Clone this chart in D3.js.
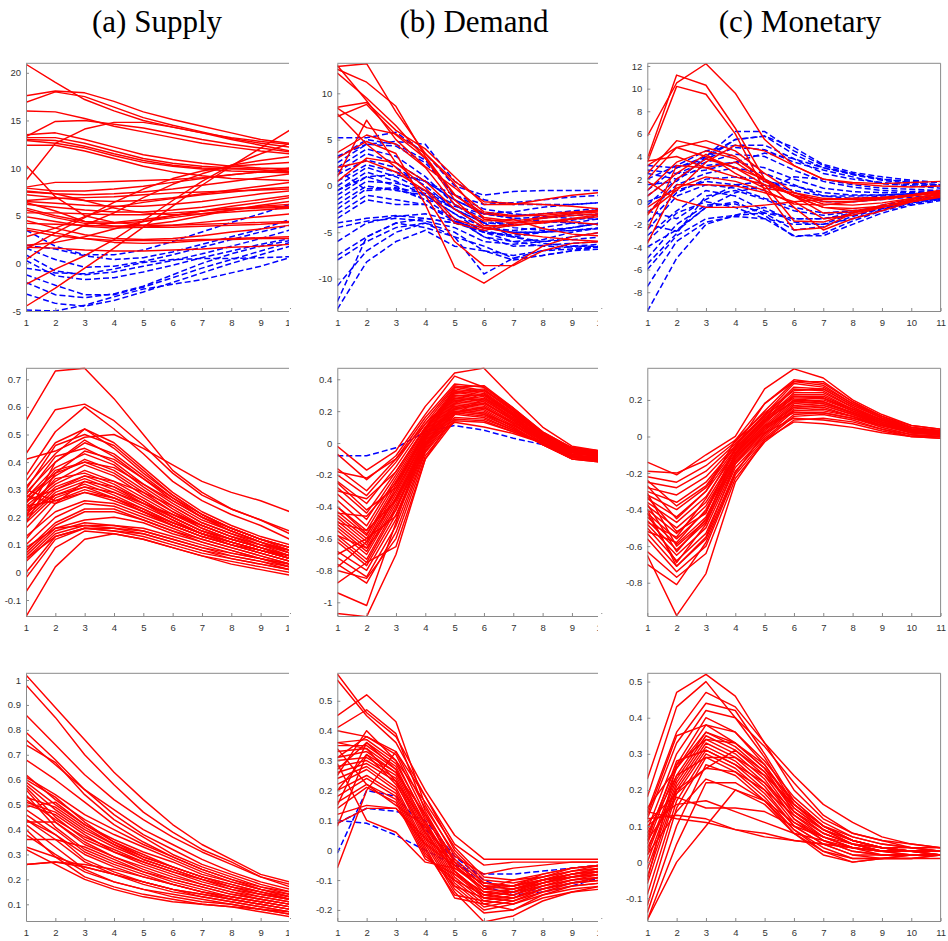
<!DOCTYPE html>
<html>
<head>
<meta charset="utf-8">
<script src="https://cdn.jsdelivr.net/npm/d3@7"></script>
<style>
  body { margin: 0; background: #fff; }
  svg { display: block; }
  .title { font-family: "Liberation Serif", "Times New Roman", serif; font-size: 31px; fill: #000; }
  .tick text { font-family: "Liberation Sans", Arial, sans-serif; font-size: 9.5px; fill: #333; }
</style>
</head>
<body>
<svg id="chart" width="948" height="941"></svg>
<script>
// column titles
const titles = ["(a) Supply", "(b) Demand", "(c) Monetary"];

// horizons
const steps10 = [1, 2, 3, 4, 5, 6, 7, 8, 9, 10];
const steps11 = [1, 2, 3, 4, 5, 6, 7, 8, 9, 10, 11];

// y tick labels per panel
const ticksA1 = [-5, 0, 5, 10, 15, 20];
const ticksB1 = [-10, -5, 0, 5, 10];
const ticksC1 = [-8, -6, -4, -2, 0, 2, 4, 6, 8, 10, 12];
const ticksA2 = [-0.1, 0, 0.1, 0.2, 0.3, 0.4, 0.5, 0.6, 0.7];
const ticksB2 = [-1, -0.8, -0.6, -0.4, -0.2, 0, 0.2, 0.4];
const ticksC2 = [-0.8, -0.6, -0.4, -0.2, 0, 0.2];
const ticksA3 = [0.1, 0.2, 0.3, 0.4, 0.5, 0.6, 0.7, 0.8, 0.9, 1];
const ticksB3 = [-0.2, -0.1, 0, 0.1, 0.2, 0.3, 0.4, 0.5];
const ticksC3 = [-0.1, 0, 0.1, 0.2, 0.3, 0.4, 0.5];

// ---- row 1, supply
const supplyTopSolid = [
  [20.9,19.0,17.2,16.0,15.0,14.3,13.7,13.0,12.4,11.8],
  [17.6,18.1,17.9,17.0,15.9,15.1,14.4,13.7,13.0,12.6],
  [16.9,18.0,17.5,16.4,15.3,14.5,13.8,13.1,12.6,12.2],
  [16.0,15.9,15.2,14.4,13.8,13.2,12.6,12.2,11.8,11.5],
  [13.3,14.9,15.0,14.6,14.2,13.6,13.0,12.5,12.1,11.7],
  [13.5,13.7,13.0,12.2,11.4,10.9,10.5,10.2,10.0,9.9],
  [13.2,13.2,12.6,11.8,11.0,10.5,10.2,10.0,9.8,9.6],
  [12.9,12.6,12.1,11.3,10.6,10.2,9.9,9.7,9.6,9.5],
  [12.4,12.4,11.8,11.0,10.2,9.6,9.2,8.9,8.8,8.7],
  [13.0,12.9,12.3,11.5,10.8,10.3,10.0,9.9,9.9,10.0],
  [8.7,12.6,14.1,14.8,14.8,14.3,13.7,13.2,12.8,12.5],
  [-4.5,-2.6,-0.5,1.6,3.8,6.0,8.2,10.2,12.1,14.0],
  [-2.2,-0.6,0.8,2.5,4.5,6.6,8.6,10.3,11.5,12.6],
  [0.4,2.5,4.0,5.3,6.9,8.3,9.4,10.3,10.8,11.2],
  [1.5,3.2,4.8,6.4,7.8,8.9,9.7,10.2,10.4,10.6],
  [10.3,7.0,5.0,4.3,4.0,4.0,4.1,4.2,4.3,4.4],
  [8.0,8.5,8.5,8.6,8.7,8.8,9.0,9.3,9.6,10.0],
  [7.9,7.6,7.6,7.8,8.1,8.5,8.9,9.3,9.6,9.8],
  [7.5,7.3,7.2,7.3,7.5,7.8,8.2,8.6,9.0,9.4],
  [7.2,6.9,6.6,6.5,6.6,6.9,7.3,7.7,8.1,8.5],
  [6.5,6.3,6.1,6.0,6.0,6.2,6.5,6.9,7.3,7.6],
  [6.2,5.9,5.6,5.4,5.4,5.6,5.9,6.3,6.7,7.1],
  [5.8,5.0,4.4,4.3,4.6,5.0,5.5,6.0,6.4,6.9],
  [5.6,4.8,4.2,4.2,4.4,4.8,5.2,5.6,6.0,6.2],
  [5.3,5.3,5.2,5.1,5.1,5.3,5.5,5.7,5.8,5.9],
  [4.9,4.4,3.9,3.7,3.8,4.0,4.3,4.6,4.9,5.2],
  [4.5,3.7,3.0,2.6,2.5,2.6,2.9,3.3,3.6,4.0],
  [4.2,4.1,4.0,3.9,3.8,3.8,3.9,4.0,4.1,4.3],
  [3.7,3.2,2.6,2.2,2.1,2.2,2.4,2.6,2.7,2.8],
  [3.5,2.9,2.6,2.4,2.4,2.4,2.5,2.5,2.6,2.6],
  [1.7,1.6,1.4,1.3,1.3,1.4,1.5,1.7,1.8,2.0],
  [1.9,2.2,2.8,3.6,4.4,5.0,5.5,5.8,5.9,6.0],
  [6.4,5.5,4.4,3.9,4.0,4.4,5.0,5.6,6.1,6.5],
  [2.8,3.7,4.9,5.9,6.4,6.8,7.2,7.5,7.8,8.0],
  [6.6,6.8,6.9,7.0,7.2,7.4,7.5,7.6,7.7,7.8],
  [7.6,7.3,6.6,5.8,5.3,5.1,5.2,5.4,5.6,5.8]
];
const supplyTopDashed = [
  [3.5,1.8,0.9,0.9,1.4,2.3,3.3,4.3,5.2,6.2],
  [1.9,1.5,0.8,0.4,0.6,1.2,2.0,2.8,3.6,4.6],
  [1.6,0.4,-0.4,-0.3,0.2,0.9,1.7,2.5,3.3,4.0],
  [0.9,-0.8,-1.2,-0.9,-0.3,0.3,1.0,1.8,2.6,3.5],
  [0.3,-1.3,-1.7,-1.5,-0.9,-0.2,0.6,1.3,2.0,2.6],
  [-0.5,-1.0,-1.1,-0.6,0.1,0.4,0.5,0.5,0.6,0.7],
  [-1.2,-2.3,-3.3,-3.3,-2.5,-1.5,-0.5,0.4,1.3,2.2],
  [-2.0,-3.3,-3.6,-3.2,-2.4,-1.2,0.0,1.0,1.8,2.4],
  [-3.2,-4.2,-4.5,-3.9,-3.0,-2.0,-1.0,0.0,0.9,1.8],
  [-4.9,-5.0,-4.4,-3.5,-2.7,-2.2,-1.7,-1.0,-0.3,0.6]
];

// ---- row 1, demand
const demandTopSolid = [
  [12.9,13.2,8.0,3.5,0.5,-1.7,-1.9,-2.0,-2.2,-2.5],
  [12.6,11.2,8.6,3.2,-1.0,-3.0,-3.3,-3.0,-2.8,-2.7],
  [12.2,9.5,6.5,3.0,-0.9,-3.4,-3.8,-3.4,-3.0,-2.8],
  [13.0,9.2,5.0,2.1,-0.2,-2.8,-3.2,-3.2,-2.9,-2.6],
  [8.5,9.0,6.0,4.0,1.0,-2.0,-2.0,-1.5,-1.0,-0.7],
  [7.5,8.8,5.5,3.0,-1.5,-4.3,-4.3,-3.9,-3.5,-3.1],
  [8.4,6.3,5.6,3.5,0.2,-3.6,-4.0,-3.8,-3.9,-4.2],
  [7.8,4.5,2.0,-1.0,-6.0,-8.6,-8.6,-7.0,-6.2,-6.0],
  [3.0,4.8,3.5,-2.0,-8.8,-10.5,-8.5,-6.5,-5.5,-5.0],
  [1.0,7.1,2.5,0.5,-2.5,-4.5,-5.1,-5.5,-5.8,-6.0],
  [0.5,3.0,2.5,-0.2,-3.6,-4.6,-4.0,-3.5,-3.2,-3.0],
  [2.0,2.7,1.5,-0.5,-4.0,-4.8,-4.2,-4.0,-3.6,-3.3],
  [3.6,5.5,4.5,2.0,-2.0,-3.8,-3.6,-4.6,-5.2,-5.4]
];
const demandTopDashed = [
  [5.2,5.2,5.8,3.5,0.0,-1.0,-0.6,-0.5,-0.5,-0.5],
  [3.0,5.0,4.5,2.8,-1.0,-2.0,-1.8,-1.5,-1.2,-1.0],
  [2.5,4.5,4.3,2.5,-1.0,-3.0,-2.8,-2.3,-2.0,-1.8],
  [2.0,4.0,3.2,1.0,-2.0,-4.0,-4.0,-3.5,-3.0,-2.5],
  [1.5,3.5,2.5,0.5,-1.5,-3.0,-3.5,-3.4,-3.2,-3.0],
  [1.2,2.8,2.0,0.0,-2.5,-4.5,-4.8,-4.5,-4.0,-3.5],
  [0.5,2.3,1.5,0.5,-1.5,-3.0,-3.2,-3.0,-2.7,-2.4],
  [0.0,2.0,1.0,-0.5,-2.5,-4.0,-4.2,-4.0,-3.7,-3.2],
  [-0.5,1.5,0.5,-1.0,-3.0,-5.0,-5.3,-5.0,-4.5,-4.0],
  [-1.0,1.0,0.0,-1.5,-3.5,-5.5,-6.0,-5.8,-5.0,-4.5],
  [-1.5,0.5,0.3,-0.5,-2.0,-3.5,-4.5,-4.8,-4.5,-4.0],
  [-2.0,0.0,-0.5,-1.0,-3.0,-4.5,-5.0,-5.0,-4.8,-4.6],
  [-2.5,-0.3,-0.2,-0.8,-2.5,-4.0,-5.5,-6.0,-5.8,-5.5],
  [-3.0,-1.0,-1.5,-2.0,-3.5,-5.5,-6.5,-6.4,-6.2,-6.0],
  [-3.5,-1.5,-2.0,-2.0,-3.8,-5.0,-6.0,-6.5,-6.6,-6.6],
  [-4.0,-3.5,-3.2,-3.5,-4.0,-4.5,-5.0,-5.0,-4.5,-4.0],
  [-4.5,-3.8,-3.5,-3.8,-4.5,-6.0,-6.3,-6.0,-5.5,-5.0],
  [-6.0,-4.0,-3.3,-3.0,-3.8,-4.8,-5.5,-6.2,-6.5,-6.5],
  [-7.5,-5.5,-4.0,-4.5,-5.5,-6.5,-7.8,-7.5,-7.0,-6.8],
  [-8.0,-6.0,-4.5,-4.0,-5.0,-7.0,-7.5,-7.0,-6.5,-6.3],
  [-10.8,-7.0,-5.0,-4.0,-5.5,-9.5,-7.8,-7.0,-6.8,-6.6],
  [-13.3,-8.2,-6.0,-4.8,-6.5,-7.0,-8.0,-7.5,-7.0,-6.5],
  [-12.5,-5.5,-4.0,-3.5,-4.0,-5.0,-5.5,-5.0,-4.8,-4.5],
  [3.2,4.5,4.8,4.5,0.5,-1.5,-2.0,-2.0,-2.0,-1.8],
  [-0.5,1.0,1.2,0.5,-1.0,-2.5,-3.0,-3.3,-3.5,-3.6],
  [1.8,-0.5,-0.3,-1.5,-2.2,-3.0,-3.5,-3.8,-4.0,-4.2]
];

// ---- row 1, monetary
const monetaryTopSolid = [
  [5.8,10.5,12.2,9.6,5.5,3.2,2.0,1.6,1.4,1.3,1.4],
  [3.8,11.2,10.3,6.5,2.0,0.5,0.2,0.2,0.3,0.5,0.8],
  [3.5,10.2,9.5,6.0,1.0,-0.2,-0.3,0.0,0.3,0.6,1.0],
  [2.5,5.4,4.8,4.0,2.0,0.5,-0.5,-0.8,-0.5,0.0,0.5],
  [3.2,4.8,5.4,4.5,2.5,0.8,0.0,0.0,0.2,0.5,0.9],
  [2.0,4.8,4.0,3.0,1.5,-1.7,-1.8,-1.0,-0.5,0.2,0.7],
  [-1.0,1.0,3.5,5.0,4.5,3.2,2.0,1.7,1.6,1.7,1.8],
  [1.0,3.5,4.5,3.8,2.0,-0.5,-2.5,-1.5,-0.8,0.0,0.5],
  [-2.5,3.2,3.0,3.5,1.8,0.5,-0.5,-0.6,-0.4,0.0,0.4],
  [-3.7,1.5,1.5,1.4,0.8,0.0,-1.5,-1.2,-0.5,0.2,0.8],
  [-0.5,1.2,2.2,1.8,1.0,-2.5,-2.3,-1.0,-0.3,0.3,0.6],
  [1.8,0.2,-0.5,-0.5,-0.3,0.0,0.2,0.3,0.4,0.6,0.8],
  [0.5,2.5,4.2,2.5,1.2,0.8,0.3,0.2,0.3,0.6,1.0],
  [-1.2,2.0,3.8,3.0,2.0,0.5,-1.0,-0.9,-0.5,0.1,0.5],
  [3.6,4.0,3.0,2.2,1.5,0.6,-0.2,-0.3,-0.1,0.3,0.7]
];
const monetaryTopDashed = [
  [3.2,3.0,4.0,6.2,6.2,4.5,3.2,2.4,2.0,1.8,1.7],
  [2.5,2.0,3.8,5.5,5.8,4.2,3.0,2.4,1.9,1.6,1.5],
  [2.0,3.2,4.5,5.0,5.0,3.8,2.5,2.0,1.7,1.5,1.4],
  [1.0,3.0,3.8,4.8,4.6,3.5,2.8,2.2,1.6,1.4,1.2],
  [0.5,2.5,3.5,4.2,4.0,2.8,1.8,1.3,1.0,0.9,1.0],
  [-0.3,2.0,3.2,3.5,3.0,2.0,1.2,0.9,0.8,0.8,0.9],
  [-1.0,1.5,2.5,3.0,2.5,1.5,0.5,0.3,0.5,0.7,0.8],
  [-1.8,0.8,2.0,2.2,2.0,0.8,0.0,0.0,0.2,0.4,0.6],
  [-2.5,0.5,1.5,1.2,0.3,-0.5,-1.0,-0.8,-0.5,0.0,0.4],
  [-3.0,-0.8,1.0,0.5,-0.8,-1.5,-1.5,-1.2,-0.6,-0.1,0.3],
  [-3.5,-1.0,0.0,-0.5,-1.5,-3.0,-3.0,-2.0,-1.0,-0.3,0.1],
  [-4.0,-2.5,-0.5,0.0,-1.2,-3.1,-2.8,-1.7,-0.8,-0.2,0.2],
  [-5.0,-2.0,-0.3,-0.2,-1.0,-2.5,-2.2,-1.3,-0.6,0.0,0.3],
  [-6.0,-3.0,-1.5,-1.2,-0.5,-1.8,-2.0,-1.0,-0.3,0.2,0.5],
  [-7.5,-3.5,-1.8,-1.3,-1.5,-2.0,-2.0,-1.5,-0.7,0.0,0.3],
  [-9.7,-5.0,-2.0,-1.2,-1.0,-1.5,-1.5,-1.0,-0.5,0.0,0.2],
  [-5.5,-2.8,0.5,1.0,0.2,-0.8,-1.2,-0.9,-0.4,0.1,0.5],
  [1.5,1.8,4.0,5.5,5.8,4.8,3.3,2.6,2.2,1.9,1.7],
  [2.8,2.5,2.8,3.5,4.3,3.8,3.0,2.5,2.0,1.7,1.5],
  [0.0,1.0,1.8,1.5,1.0,2.2,2.0,1.5,1.2,1.1,1.0],
  [-2.0,-2.6,-0.5,0.8,1.5,1.0,0.5,0.5,0.6,0.7,0.8],
  [-0.8,-1.5,0.2,1.5,1.8,1.4,0.8,0.6,0.6,0.7,0.8]
];

// ---- row 2, supply
const supplyMidSolid = [
  [0.55,0.73,0.74,0.63,0.50,0.37,0.29,0.23,0.19,0.15],
  [0.41,0.44,0.49,0.50,0.45,0.39,0.33,0.29,0.26,0.22],
  [0.43,0.59,0.61,0.55,0.46,0.36,0.28,0.23,0.19,0.14],
  [0.35,0.51,0.60,0.52,0.43,0.33,0.26,0.21,0.17,0.12],
  [0.33,0.47,0.52,0.47,0.38,0.29,0.22,0.17,0.13,0.10],
  [0.31,0.43,0.52,0.45,0.36,0.28,0.21,0.16,0.12,0.09],
  [0.30,0.46,0.50,0.46,0.37,0.28,0.21,0.16,0.12,0.08],
  [0.29,0.40,0.48,0.42,0.34,0.26,0.20,0.15,0.11,0.08],
  [0.28,0.42,0.45,0.40,0.32,0.25,0.19,0.15,0.11,0.07],
  [0.27,0.38,0.43,0.39,0.31,0.24,0.18,0.14,0.10,0.06],
  [0.26,0.35,0.41,0.37,0.30,0.23,0.17,0.13,0.10,0.07],
  [0.25,0.37,0.40,0.36,0.29,0.22,0.17,0.13,0.09,0.06],
  [0.24,0.33,0.39,0.35,0.28,0.22,0.16,0.12,0.09,0.06],
  [0.23,0.32,0.37,0.33,0.27,0.21,0.16,0.12,0.09,0.05],
  [0.22,0.34,0.36,0.32,0.26,0.20,0.15,0.11,0.08,0.05],
  [0.21,0.31,0.35,0.31,0.25,0.19,0.14,0.11,0.08,0.05],
  [0.20,0.30,0.34,0.30,0.25,0.20,0.15,0.12,0.09,0.06],
  [0.19,0.29,0.33,0.29,0.24,0.19,0.14,0.11,0.08,0.05],
  [0.18,0.28,0.32,0.28,0.23,0.18,0.14,0.10,0.08,0.05],
  [0.16,0.27,0.31,0.27,0.22,0.17,0.13,0.10,0.07,0.04],
  [0.30,0.26,0.30,0.27,0.22,0.18,0.14,0.11,0.08,0.05],
  [0.28,0.25,0.29,0.26,0.22,0.17,0.13,0.10,0.07,0.04],
  [0.13,0.22,0.26,0.25,0.21,0.17,0.13,0.10,0.07,0.04],
  [0.10,0.20,0.25,0.24,0.20,0.16,0.12,0.09,0.06,0.03],
  [0.08,0.18,0.23,0.23,0.19,0.15,0.12,0.09,0.06,0.03],
  [0.07,0.17,0.22,0.22,0.19,0.15,0.11,0.08,0.05,0.03],
  [0.06,0.16,0.19,0.20,0.18,0.14,0.11,0.08,0.05,0.02],
  [0.05,0.15,0.18,0.17,0.16,0.13,0.10,0.07,0.05,0.02],
  [0.04,0.14,0.17,0.16,0.15,0.12,0.09,0.06,0.04,0.02],
  [0.00,0.13,0.16,0.16,0.14,0.11,0.08,0.06,0.04,0.01],
  [-0.02,0.12,0.16,0.15,0.13,0.10,0.07,0.05,0.03,0.01],
  [-0.07,0.09,0.15,0.14,0.12,0.09,0.06,0.04,0.02,0.00],
  [-0.16,0.02,0.12,0.14,0.12,0.09,0.06,0.03,0.01,-0.01],
  [0.24,0.26,0.29,0.27,0.23,0.18,0.14,0.11,0.08,0.06],
  [0.27,0.36,0.40,0.38,0.32,0.26,0.20,0.16,0.12,0.09],
  [0.18,0.36,0.44,0.41,0.34,0.27,0.21,0.16,0.12,0.09],
  [0.20,0.40,0.47,0.43,0.35,0.27,0.20,0.15,0.11,0.07],
  [0.12,0.25,0.33,0.31,0.26,0.20,0.15,0.12,0.09,0.06],
  [0.26,0.30,0.35,0.33,0.29,0.24,0.18,0.14,0.11,0.08],
  [0.22,0.28,0.31,0.29,0.25,0.21,0.17,0.13,0.10,0.08],
  [0.09,0.16,0.17,0.17,0.15,0.12,0.09,0.07,0.05,0.03],
  [0.05,0.13,0.16,0.15,0.14,0.11,0.08,0.05,0.03,0.01]
];

// ---- row 2, demand
const demandMidSolid = [
  [-0.02,-0.17,-0.05,0.23,0.44,0.47,0.28,0.10,-0.02,-0.05],
  [-0.07,-0.23,-0.08,0.18,0.42,0.35,0.22,0.07,-0.03,-0.06],
  [-0.16,-0.30,-0.10,0.16,0.37,0.35,0.21,0.06,-0.04,-0.07],
  [-0.20,-0.33,-0.12,0.14,0.36,0.33,0.20,0.05,-0.04,-0.07],
  [-0.24,-0.38,-0.15,0.12,0.35,0.32,0.19,0.05,-0.05,-0.08],
  [-0.28,-0.44,-0.18,0.10,0.34,0.31,0.18,0.04,-0.05,-0.08],
  [-0.32,-0.48,-0.20,0.09,0.33,0.30,0.17,0.03,-0.06,-0.09],
  [-0.36,-0.52,-0.22,0.08,0.32,0.29,0.17,0.03,-0.06,-0.09],
  [-0.40,-0.55,-0.24,0.07,0.30,0.28,0.16,0.02,-0.07,-0.10],
  [-0.43,-0.58,-0.26,0.06,0.29,0.27,0.15,0.02,-0.07,-0.10],
  [-0.45,-0.60,-0.28,0.05,0.28,0.26,0.14,0.01,-0.08,-0.10],
  [-0.47,-0.62,-0.30,0.04,0.27,0.25,0.14,0.01,-0.08,-0.11],
  [-0.49,-0.64,-0.32,0.03,0.26,0.24,0.13,0.01,-0.08,-0.11],
  [-0.51,-0.66,-0.34,0.02,0.25,0.23,0.12,0.00,-0.09,-0.11],
  [-0.53,-0.68,-0.36,0.01,0.24,0.22,0.12,0.00,-0.09,-0.11],
  [-0.55,-0.70,-0.38,0.00,0.23,0.21,0.11,0.00,-0.09,-0.12],
  [-0.58,-0.73,-0.40,-0.01,0.22,0.20,0.10,-0.01,-0.10,-0.12],
  [-0.60,-0.75,-0.42,-0.02,0.21,0.19,0.10,-0.01,-0.10,-0.12],
  [-0.62,-0.77,-0.45,-0.03,0.20,0.18,0.09,-0.01,-0.10,-0.11],
  [-0.68,-0.80,-0.48,-0.04,0.19,0.17,0.09,-0.01,-0.09,-0.10],
  [-0.72,-0.84,-0.52,-0.05,0.18,0.16,0.08,0.00,-0.08,-0.09],
  [-0.76,-0.88,-0.56,-0.06,0.16,0.15,0.08,0.00,-0.07,-0.08],
  [-0.80,-0.85,-0.60,-0.08,0.15,0.14,0.07,0.00,-0.06,-0.07],
  [-0.88,-0.75,-0.65,-0.10,0.14,0.13,0.07,0.00,-0.05,-0.06],
  [-0.94,-1.02,-0.50,0.05,0.22,0.25,0.15,0.03,-0.05,-0.07],
  [-1.07,-1.09,-0.70,-0.10,0.18,0.28,0.18,0.05,-0.03,-0.05],
  [-0.78,-0.62,-0.35,0.00,0.13,0.10,0.06,0.00,-0.06,-0.08],
  [-0.44,-0.46,-0.25,0.05,0.20,0.18,0.11,0.02,-0.05,-0.07],
  [-0.40,-0.57,-0.30,0.03,0.32,0.34,0.20,0.06,-0.03,-0.06],
  [-0.30,-0.35,-0.18,0.10,0.28,0.27,0.16,0.04,-0.05,-0.08],
  [-0.18,-0.22,-0.10,0.12,0.30,0.30,0.18,0.05,-0.04,-0.07],
  [-0.58,-0.66,-0.42,0.02,0.35,0.36,0.22,0.07,-0.03,-0.05],
  [-0.50,-0.55,-0.36,0.00,0.19,0.22,0.13,0.03,-0.06,-0.09],
  [-0.70,-0.60,-0.46,-0.02,0.25,0.31,0.19,0.05,-0.05,-0.08],
  [-0.25,-0.42,-0.28,0.08,0.31,0.33,0.21,0.06,-0.04,-0.06]
];
const demandMidDashed = [
  [-0.08,-0.08,-0.03,0.07,0.11,0.08,0.03,-0.01,-0.04,-0.06]
];

// ---- row 2, monetary
const monetaryMidSolid = [
  [-0.14,-0.21,-0.10,0.00,0.26,0.37,0.32,0.20,0.12,0.06,0.04],
  [-0.19,-0.20,-0.13,-0.02,0.18,0.31,0.29,0.19,0.11,0.05,0.03],
  [-0.22,-0.25,-0.16,-0.03,0.14,0.30,0.28,0.18,0.11,0.05,0.03],
  [-0.25,-0.28,-0.19,-0.04,0.12,0.29,0.27,0.18,0.10,0.05,0.03],
  [-0.28,-0.32,-0.22,-0.05,0.11,0.27,0.26,0.17,0.10,0.04,0.03],
  [-0.30,-0.36,-0.25,-0.06,0.10,0.26,0.25,0.16,0.09,0.04,0.02],
  [-0.32,-0.40,-0.28,-0.07,0.09,0.24,0.24,0.16,0.09,0.04,0.02],
  [-0.34,-0.44,-0.30,-0.08,0.08,0.23,0.23,0.15,0.09,0.04,0.02],
  [-0.36,-0.47,-0.33,-0.09,0.07,0.22,0.22,0.15,0.08,0.03,0.02],
  [-0.38,-0.50,-0.36,-0.10,0.06,0.20,0.21,0.14,0.08,0.03,0.02],
  [-0.40,-0.53,-0.38,-0.11,0.05,0.19,0.20,0.14,0.08,0.03,0.01],
  [-0.42,-0.56,-0.41,-0.12,0.04,0.18,0.19,0.13,0.07,0.03,0.01],
  [-0.44,-0.59,-0.44,-0.13,0.03,0.17,0.18,0.13,0.07,0.02,0.01],
  [-0.46,-0.62,-0.47,-0.14,0.02,0.16,0.17,0.12,0.06,0.02,0.01],
  [-0.48,-0.65,-0.50,-0.15,0.01,0.15,0.16,0.11,0.06,0.02,0.01],
  [-0.50,-0.68,-0.53,-0.17,0.00,0.14,0.15,0.11,0.05,0.01,0.00],
  [-0.53,-0.71,-0.56,-0.19,-0.01,0.12,0.13,0.10,0.05,0.01,0.00],
  [-0.56,-0.74,-0.60,-0.21,-0.02,0.11,0.12,0.09,0.04,0.01,0.00],
  [-0.63,-0.77,-0.64,-0.23,-0.03,0.09,0.10,0.08,0.04,0.00,0.00],
  [-0.70,-0.81,-0.58,-0.20,0.02,0.10,0.09,0.07,0.03,0.00,-0.01],
  [-0.65,-0.98,-0.75,-0.25,-0.02,0.08,0.07,0.05,0.02,0.00,-0.01],
  [-0.33,-0.52,-0.42,-0.06,0.18,0.30,0.30,0.19,0.11,0.06,0.04],
  [-0.27,-0.45,-0.30,-0.02,0.13,0.25,0.26,0.17,0.10,0.05,0.03],
  [-0.37,-0.63,-0.45,-0.09,0.10,0.21,0.21,0.15,0.09,0.04,0.02],
  [-0.42,-0.69,-0.48,-0.12,0.05,0.16,0.17,0.12,0.07,0.03,0.02],
  [-0.47,-0.55,-0.34,-0.07,0.09,0.19,0.18,0.13,0.08,0.04,0.02],
  [-0.24,-0.38,-0.27,-0.05,0.12,0.22,0.21,0.14,0.08,0.04,0.02],
  [-0.52,-0.58,-0.40,-0.10,0.06,0.13,0.13,0.10,0.06,0.02,0.01],
  [-0.40,-0.71,-0.55,-0.15,0.04,0.14,0.14,0.11,0.06,0.03,0.01],
  [-0.31,-0.60,-0.46,-0.10,0.08,0.20,0.19,0.13,0.07,0.03,0.02]
];

// ---- row 3, supply
const supplyLowSolid = [
  [1.02,0.89,0.76,0.63,0.52,0.42,0.34,0.28,0.22,0.19],
  [0.98,0.85,0.70,0.58,0.47,0.39,0.32,0.27,0.21,0.18],
  [0.86,0.74,0.62,0.52,0.44,0.37,0.31,0.26,0.21,0.17],
  [0.79,0.68,0.56,0.48,0.40,0.34,0.28,0.23,0.19,0.16],
  [0.76,0.66,0.56,0.46,0.38,0.32,0.26,0.22,0.18,0.15],
  [0.74,0.67,0.54,0.44,0.37,0.30,0.25,0.21,0.17,0.14],
  [0.68,0.60,0.51,0.42,0.35,0.29,0.24,0.20,0.16,0.13],
  [0.62,0.52,0.44,0.38,0.33,0.28,0.23,0.19,0.16,0.14],
  [0.61,0.54,0.46,0.40,0.34,0.29,0.24,0.20,0.17,0.15],
  [0.59,0.50,0.42,0.36,0.31,0.27,0.22,0.19,0.16,0.13],
  [0.58,0.48,0.40,0.34,0.29,0.25,0.21,0.18,0.15,0.12],
  [0.57,0.45,0.36,0.31,0.27,0.23,0.20,0.17,0.14,0.12],
  [0.56,0.43,0.34,0.29,0.25,0.21,0.18,0.15,0.13,0.11],
  [0.54,0.41,0.32,0.27,0.23,0.20,0.17,0.14,0.12,0.10],
  [0.52,0.44,0.37,0.32,0.27,0.23,0.19,0.16,0.13,0.11],
  [0.51,0.47,0.39,0.33,0.28,0.24,0.20,0.16,0.14,0.12],
  [0.50,0.46,0.38,0.31,0.26,0.22,0.18,0.15,0.12,0.10],
  [0.48,0.40,0.31,0.26,0.22,0.18,0.15,0.13,0.11,0.09],
  [0.46,0.38,0.28,0.23,0.19,0.16,0.14,0.12,0.10,0.08],
  [0.44,0.36,0.27,0.22,0.18,0.15,0.13,0.11,0.09,0.07],
  [0.42,0.33,0.24,0.19,0.16,0.14,0.12,0.10,0.08,0.06],
  [0.40,0.29,0.21,0.17,0.14,0.12,0.10,0.09,0.08,0.06],
  [0.38,0.30,0.23,0.19,0.16,0.13,0.11,0.10,0.08,0.07],
  [0.36,0.36,0.33,0.28,0.23,0.19,0.16,0.13,0.11,0.09],
  [0.33,0.29,0.25,0.22,0.19,0.16,0.13,0.11,0.09,0.07],
  [0.26,0.27,0.25,0.22,0.19,0.16,0.14,0.12,0.10,0.08],
  [0.26,0.27,0.26,0.24,0.21,0.18,0.15,0.13,0.11,0.09],
  [0.43,0.43,0.35,0.29,0.24,0.20,0.17,0.14,0.12,0.10],
  [0.49,0.51,0.42,0.35,0.30,0.25,0.21,0.18,0.15,0.13],
  [0.53,0.49,0.41,0.34,0.28,0.24,0.20,0.17,0.14,0.12],
  [0.60,0.53,0.43,0.35,0.29,0.25,0.21,0.17,0.15,0.12],
  [0.44,0.38,0.30,0.25,0.21,0.18,0.15,0.12,0.10,0.08],
  [0.32,0.26,0.20,0.16,0.13,0.11,0.10,0.09,0.07,0.05]
];

// ---- row 3, demand
const demandLowSolid = [
  [0.59,0.46,0.38,0.20,0.05,-0.03,-0.03,-0.03,-0.03,-0.03],
  [0.57,0.45,0.36,0.18,0.02,-0.05,-0.04,-0.04,-0.04,-0.04],
  [0.45,0.52,0.43,0.15,-0.02,-0.08,-0.06,-0.05,-0.04,-0.04],
  [0.41,0.47,0.39,0.13,-0.04,-0.12,-0.12,-0.08,-0.06,-0.05],
  [0.40,0.38,0.32,0.12,-0.06,-0.13,-0.10,-0.09,-0.07,-0.06],
  [0.36,0.37,0.30,0.10,-0.07,-0.15,-0.13,-0.10,-0.08,-0.07],
  [0.35,0.35,0.28,0.08,-0.08,-0.16,-0.14,-0.11,-0.09,-0.08],
  [0.33,0.34,0.27,0.07,-0.09,-0.17,-0.15,-0.12,-0.10,-0.09],
  [0.31,0.33,0.26,0.06,-0.10,-0.18,-0.16,-0.13,-0.11,-0.10],
  [0.30,0.31,0.25,0.05,-0.11,-0.19,-0.17,-0.14,-0.12,-0.11],
  [0.28,0.30,0.24,0.04,-0.12,-0.20,-0.18,-0.15,-0.13,-0.12],
  [0.26,0.29,0.23,0.03,-0.13,-0.21,-0.20,-0.16,-0.14,-0.12],
  [0.24,0.28,0.21,0.02,-0.14,-0.24,-0.22,-0.17,-0.14,-0.13],
  [0.22,0.27,0.20,0.01,-0.16,-0.18,-0.20,-0.15,-0.12,-0.11],
  [0.20,0.25,0.19,0.00,-0.15,-0.17,-0.18,-0.14,-0.11,-0.10],
  [0.18,0.24,0.18,-0.01,-0.12,-0.16,-0.17,-0.13,-0.10,-0.09],
  [0.16,0.22,0.17,-0.02,-0.10,-0.15,-0.16,-0.12,-0.09,-0.08],
  [0.14,0.21,0.16,-0.03,-0.08,-0.14,-0.15,-0.11,-0.08,-0.07],
  [0.12,0.15,0.14,0.02,-0.05,-0.13,-0.14,-0.10,-0.08,-0.06],
  [0.09,0.14,0.14,0.04,-0.04,-0.12,-0.13,-0.10,-0.07,-0.06],
  [-0.06,0.20,0.33,0.18,0.00,-0.10,-0.11,-0.09,-0.06,-0.05],
  [0.08,0.32,0.26,0.12,-0.03,-0.11,-0.12,-0.09,-0.07,-0.05],
  [0.25,0.40,0.30,0.16,0.01,-0.09,-0.10,-0.08,-0.06,-0.05],
  [0.31,0.38,0.33,0.14,-0.01,-0.11,-0.12,-0.10,-0.08,-0.06],
  [0.34,0.22,0.15,0.08,-0.05,-0.14,-0.13,-0.11,-0.09,-0.08],
  [0.27,0.36,0.27,0.09,-0.05,-0.13,-0.12,-0.10,-0.08,-0.07],
  [0.20,0.32,0.22,0.06,-0.07,-0.15,-0.14,-0.12,-0.10,-0.08],
  [0.15,0.36,0.29,0.11,-0.04,-0.12,-0.13,-0.11,-0.09,-0.07],
  [0.29,0.10,0.06,-0.04,-0.06,-0.11,-0.12,-0.10,-0.09,-0.07],
  [0.36,0.34,0.23,0.09,-0.07,-0.16,-0.16,-0.13,-0.11,-0.09]
];
const demandLowDashed = [
  [-0.01,0.20,0.18,0.07,-0.03,-0.12,-0.15,-0.14,-0.12,-0.09],
  [0.10,0.09,0.05,0.00,-0.05,-0.08,-0.08,-0.07,-0.06,-0.05],
  [0.09,0.14,0.13,0.10,-0.02,-0.10,-0.14,-0.13,-0.11,-0.09]
];

// ---- row 3, monetary
const monetaryLowSolid = [
  [0.23,0.47,0.52,0.46,0.33,0.24,0.16,0.11,0.07,0.05,0.04],
  [0.18,0.43,0.50,0.40,0.32,0.22,0.13,0.08,0.06,0.05,0.04],
  [0.14,0.36,0.47,0.43,0.33,0.20,0.12,0.08,0.06,0.04,0.04],
  [0.12,0.33,0.44,0.42,0.30,0.17,0.10,0.07,0.05,0.04,0.03],
  [0.09,0.30,0.42,0.40,0.29,0.16,0.10,0.06,0.04,0.04,0.03],
  [0.07,0.27,0.40,0.36,0.27,0.15,0.09,0.06,0.04,0.03,0.03],
  [0.05,0.26,0.38,0.33,0.26,0.14,0.09,0.05,0.03,0.03,0.03],
  [0.03,0.24,0.36,0.32,0.25,0.14,0.08,0.05,0.03,0.03,0.02],
  [0.02,0.23,0.35,0.31,0.24,0.13,0.07,0.04,0.03,0.02,0.02],
  [0.00,0.22,0.34,0.30,0.23,0.12,0.07,0.04,0.02,0.02,0.02],
  [-0.02,0.21,0.33,0.29,0.22,0.12,0.06,0.03,0.02,0.02,0.02],
  [-0.04,0.20,0.32,0.28,0.21,0.11,0.06,0.03,0.02,0.02,0.02],
  [-0.06,0.19,0.31,0.27,0.20,0.10,0.05,0.02,0.02,0.02,0.02],
  [-0.09,0.17,0.30,0.26,0.19,0.10,0.05,0.02,0.01,0.02,0.02],
  [-0.12,0.15,0.29,0.25,0.18,0.09,0.04,0.01,0.01,0.02,0.02],
  [-0.14,0.10,0.27,0.24,0.17,0.08,0.03,0.01,0.01,0.01,0.02],
  [-0.16,0.00,0.10,0.20,0.16,0.08,0.02,0.00,0.01,0.01,0.01],
  [-0.16,0.05,0.22,0.22,0.17,0.09,0.03,0.00,0.01,0.01,0.02],
  [0.12,0.13,0.12,0.09,0.07,0.06,0.05,0.04,0.03,0.03,0.03],
  [0.14,0.12,0.11,0.09,0.08,0.06,0.05,0.04,0.03,0.03,0.03],
  [0.10,0.16,0.17,0.14,0.11,0.08,0.06,0.04,0.03,0.03,0.02],
  [0.06,0.18,0.15,0.15,0.14,0.10,0.07,0.05,0.04,0.03,0.03],
  [0.15,0.26,0.36,0.33,0.26,0.17,0.10,0.06,0.04,0.03,0.03],
  [0.08,0.24,0.29,0.29,0.24,0.16,0.10,0.06,0.04,0.03,0.03],
  [0.04,0.20,0.26,0.25,0.20,0.13,0.08,0.05,0.03,0.03,0.02],
  [0.02,0.14,0.23,0.20,0.17,0.11,0.07,0.04,0.03,0.02,0.02],
  [0.13,0.35,0.38,0.36,0.28,0.18,0.11,0.07,0.05,0.04,0.03],
  [0.06,0.28,0.31,0.27,0.22,0.14,0.08,0.05,0.03,0.03,0.02],
  [-0.05,0.27,0.34,0.33,0.27,0.16,0.09,0.05,0.04,0.03,0.03],
  [0.11,0.19,0.26,0.31,0.25,0.15,0.09,0.06,0.04,0.03,0.03]
];

// ---- layout (pixel frame of the figure, kept apart from the data)
const colLeft = [26, 337.3, 647.3];
const colClip = [289, 598, 941];
const rowTop = [63.3, 368.3, 673.3];
const rowBottom = [311, 616, 921];
const titleX = [157, 474, 800];
const STEP = 29.33;

const panels = [
  { row: 0, col: 0, steps: steps10, yDomain: [-5, 21], ticks: ticksA1, solid: supplyTopSolid, dashed: supplyTopDashed },
  { row: 0, col: 1, steps: steps10, yDomain: [-13.5, 13.24], ticks: ticksB1, solid: demandTopSolid, dashed: demandTopDashed },
  { row: 0, col: 2, steps: steps11, yDomain: [-9.66, 12.24], ticks: ticksC1, solid: monetaryTopSolid, dashed: monetaryTopDashed },
  { row: 1, col: 0, steps: steps10, yDomain: [-0.158, 0.74], ticks: ticksA2, solid: supplyMidSolid, dashed: [] },
  { row: 1, col: 1, steps: steps10, yDomain: [-1.086, 0.469], ticks: ticksB2, solid: demandMidSolid, dashed: demandMidDashed },
  { row: 1, col: 2, steps: steps11, yDomain: [-0.982, 0.373], ticks: ticksC2, solid: monetaryMidSolid, dashed: [] },
  { row: 2, col: 0, steps: steps10, yDomain: [0.033, 1.027], ticks: ticksA3, solid: supplyLowSolid, dashed: [] },
  { row: 2, col: 1, steps: steps10, yDomain: [-0.237, 0.592], ticks: ticksB3, solid: demandLowSolid, dashed: demandLowDashed },
  { row: 2, col: 2, steps: steps11, yDomain: [-0.163, 0.523], ticks: ticksC3, solid: monetaryLowSolid, dashed: [] }
];

const svg = d3.select("#chart");
const axisColor = "#8a8a8a";

titles.forEach((t, i) => {
  svg.append("text").attr("class", "title")
    .attr("x", titleX[i]).attr("y", 32)
    .attr("text-anchor", "middle").text(t);
});

function fmt(v) {
  return String(+v.toFixed(2));
}

panels.forEach((p, idx) => {
  const left = colLeft[p.col];
  const right = left + (p.steps.length - 1) * STEP;
  const clipRight = colClip[p.col];
  const top = rowTop[p.row];
  const bottom = rowBottom[p.row];
  const x = d3.scaleLinear().domain([1, p.steps.length]).range([left, right]);
  const y = d3.scaleLinear().domain(p.yDomain).range([bottom, top]);

  const clipId = `clip${idx}`;
  svg.append("clipPath").attr("id", clipId)
    .append("rect").attr("x", left).attr("y", top - 1)
    .attr("width", clipRight - left).attr("height", bottom - top + 2);

  const line = d3.line().x((d, i) => x(p.steps[i])).y((d) => y(d));
  const plot = svg.append("g").attr("clip-path", `url(#${clipId})`);
  plot.selectAll(".dashed").data(p.dashed).join("path")
    .attr("d", line).attr("fill", "none").attr("stroke", "#0000ff")
    .attr("stroke-width", 1.5).attr("stroke-dasharray", "6,3");
  plot.selectAll(".solid").data(p.solid).join("path")
    .attr("d", line).attr("fill", "none").attr("stroke", "#ff0000")
    .attr("stroke-width", 1.45).attr("stroke-linejoin", "round");

  const axes = svg.append("g");
  axes.append("g")
    .attr("transform", `translate(0,${bottom})`)
    .call(d3.axisBottom(x).tickValues(p.steps).tickFormat(d3.format("d")).tickSizeInner(-3).tickSizeOuter(0).tickPadding(8))
    .call((a) => a.selectAll("path,line").attr("stroke", axisColor))
    .call((a) => a.selectAll("text").attr("fill", "#333"));
  axes.append("g")
    .attr("transform", `translate(${left},0)`)
    .call(d3.axisLeft(y).tickValues(p.ticks).tickFormat(fmt).tickSizeInner(-3).tickSizeOuter(0).tickPadding(5))
    .call((a) => a.selectAll("path,line").attr("stroke", axisColor))
    .call((a) => a.selectAll("text").attr("fill", "#333"));
  svg.append("line").attr("x1", left).attr("x2", Math.min(right, clipRight)).attr("y1", top).attr("y2", top)
    .attr("stroke", axisColor);
  if (p.col === 2) {
    svg.append("line").attr("x1", right).attr("x2", right).attr("y1", top).attr("y2", bottom)
      .attr("stroke", axisColor);
  }
  // the figure is cropped just before horizon 10 in the first two columns
  if (p.col < 2) {
    svg.append("rect").attr("x", clipRight).attr("y", bottom - 2).attr("width", 12).attr("height", 20).attr("fill", "#fff");
  }
});
</script>
</body>
</html>
